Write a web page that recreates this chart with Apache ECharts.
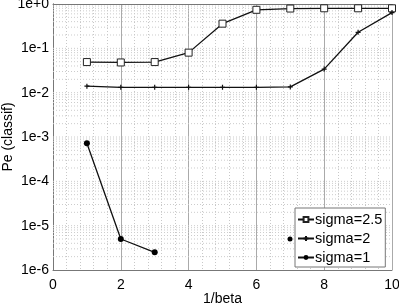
<!DOCTYPE html>
<html><head><meta charset="utf-8">
<script src="https://cdn.jsdelivr.net/npm/echarts@6/dist/echarts.min.js"></script>
<style>html,body{margin:0;padding:0;background:#fff}#c{width:399px;height:306px}</style>
</head><body><div id="c"></div>
<script>
var xValues = [1, 2, 3, 4, 5, 6, 7, 8, 9, 10];
var sigma25 = [0.049, 0.048, 0.049, 0.08, 0.36, 0.74, 0.79, 0.80, 0.80, 0.80];
var sigma2 = [0.014, 0.0132, 0.0132, 0.0132, 0.0132, 0.0132, 0.0135, 0.034, 0.23, 0.64];
var sigma1x = [1, 2, 3];
var sigma1 = [7.2e-4, 5.0e-6, 2.5e-6];
var seriesNames = ['sigma=2.5', 'sigma=2', 'sigma=1'];
var yTickLabels = {'0':'1e+0','-1':'1e-1','-2':'1e-2','-3':'1e-3','-4':'1e-4','-5':'1e-5','-6':'1e-6'};

var FONT = 'Liberation Sans';
var FS = 14;
// horizontal grid lines (log minor: 2..9 per decade, plus decades) as broken line segments
var gridSeg = [];
for (var e = -6; e < 0; e++) {
  for (var k = 1; k <= 9; k++) {
    if (e === -6 && k === 1) continue;
    var v = k * Math.pow(10, e);
    gridSeg.push([0, v], [10, v], [10, '-']);
  }
}

function pairs(xs, ys) { return xs.map(function (x, i) { return [x, ys[i]]; }); }
var plusPath = 'path://M0,5L10,5M5,0L5,10';

var chart = echarts.init(document.getElementById('c'), null, {renderer: 'canvas'});
chart.setOption({
  animation: false,
  textStyle: {fontFamily: FONT},
  grid: {left: 53, right: 7, top: 4, bottom: 36, show: false, outerBoundsMode: 'none', containLabel: false},
  xAxis: [{
    type: 'value', min: 0, max: 10, interval: 2,
    name: '1/beta', nameLocation: 'middle', nameGap: 22, nameMoveOverlap: false,
    nameTextStyle: {fontSize: FS, color: '#000', fontFamily: FONT},
    axisLine: {lineStyle: {color: '#777', width: 1}},
    axisTick: {show: false},
    axisLabel: {fontSize: FS, color: '#000', margin: 8, fontFamily: FONT},
    splitLine: {show: true, lineStyle: {color: '#aaa', width: 1}},
    minorTick: {show: false, splitNumber: 5},
    minorSplitLine: {show: true, lineStyle: {color: '#c8c8c8', type: [1, 2], width: 1}}
  }, {
    type: 'value', min: 0, max: 10, interval: 2, position: 'top',
    axisLine: {show: true, lineStyle: {color: '#777'}},
    axisTick: {show: false}, axisLabel: {show: false}, splitLine: {show: false}
  }],
  yAxis: [{
    type: 'log', logBase: 10, min: 1e-6, max: 1,
    name: 'Pe (classif)', nameLocation: 'middle', nameGap: 38, nameMoveOverlap: false,
    nameTextStyle: {fontSize: FS, color: '#000', fontFamily: FONT},
    axisLine: {show: true, lineStyle: {color: '#777'}},
    axisTick: {show: false},
    axisLabel: {fontSize: FS, color: '#000', margin: 4, fontFamily: FONT,
      formatter: function (v) { var ex = Math.round(Math.log10(v)); return yTickLabels[String(ex)] || ''; }},
    splitLine: {show: false}
  }, {
    type: 'log', logBase: 10, min: 1e-6, max: 1, position: 'right',
    axisLine: {show: true, lineStyle: {color: '#777'}},
    axisTick: {show: false}, axisLabel: {show: false}, splitLine: {show: false}
  }],
  legend: {
    orient: 'vertical', left: 295, top: 208,
    data: seriesNames,
    backgroundColor: '#fff', borderColor: '#777', borderWidth: 1,
    padding: [4, 3, 2, 2], itemGap: 4, itemWidth: 16, itemHeight: 6,
    textStyle: {fontSize: 14.5, color: '#000', fontFamily: FONT, padding: [0, 0, 0, -4]}
  },
  series: [{
    name: 'grid', type: 'line', data: gridSeg, silent: true,
    symbol: 'none', connectNulls: false, z: 1,
    lineStyle: {color: '#cccccc', type: [1, 2], width: 1}
  }, {
    name: 'sigma=2.5', type: 'line', data: pairs(xValues, sigma25),
    symbol: 'rect', symbolSize: 7,
    itemStyle: {color: '#fff', borderColor: '#222', borderWidth: 1},
    lineStyle: {color: '#111', width: 1.3}
  }, {
    name: 'sigma=2', type: 'line', data: pairs(xValues, sigma2),
    symbol: plusPath, symbolSize: 5,
    itemStyle: {color: '#111', borderColor: '#111', borderWidth: 1.2},
    lineStyle: {color: '#111', width: 1.3}
  }, {
    name: 'sigma=1', type: 'line', data: pairs(sigma1x, sigma1),
    symbol: 'circle', symbolSize: 6,
    itemStyle: {color: '#000'},
    lineStyle: {color: '#111', width: 1.3}
  }],
  graphic: [{type: 'circle', shape: {cx: 290, cy: 239, r: 2.5}, style: {fill: '#000'}, z: 100}]
});
</script></body></html>
